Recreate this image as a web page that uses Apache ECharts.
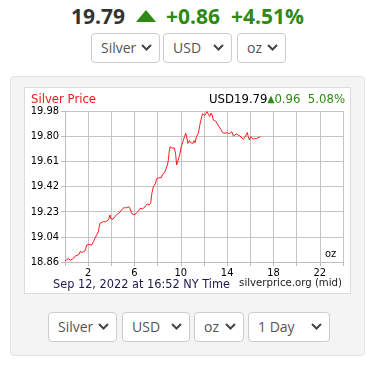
<!DOCTYPE html>
<html><head><meta charset="utf-8">
<script src="https://cdn.jsdelivr.net/npm/echarts@6/dist/echarts.min.js"></script>
<style>
html,body{margin:0;padding:0;background:#fff;width:375px;height:366px;overflow:hidden;font-family:"Open Sans",sans-serif;}
#head{position:absolute;left:0;top:2px;width:375px;text-align:center;font-weight:700;font-size:21px;line-height:28px;white-space:nowrap;}
#head .p{color:#333;}
#head .g{color:#2d8a12;}
#head svg{vertical-align:middle;margin:0 10px 4px 11px;}
#head .sp{display:inline-block;width:11px;}
.sel{position:absolute;height:28px;border:1px solid #ccc;border-radius:4px;background:#fff;box-sizing:border-box;font-size:14px;color:#555;line-height:26px;padding-left:9px;}
.sel svg{position:absolute;right:7px;top:10px;}
#panel{position:absolute;left:10px;top:76px;width:355px;height:280px;background:#f4f4f4;border:1px solid #e4e4e4;border-radius:4px;box-sizing:border-box;}
#chart{position:absolute;left:24px;top:87px;width:327px;height:207px;background:#fff;border:1px solid #ddd;box-sizing:border-box;}
</style></head>
<body>
<div id="head"><span class="p">19.79</span><svg width="20" height="12" viewBox="0 0 20 12"><polygon points="10,0 20,12 0,12" fill="#2d8a12"/></svg><span class="g">+0.86</span><span class="sp"></span><span class="g">+4.51%</span></div>
<div id="sels1"></div>
<div id="panel"></div>
<div id="chart"></div>
<div id="sels2"></div>
<script>
// ---- data ----
const hours = [0.00,0.15,0.30,0.45,0.60,0.75,0.90,1.05,1.20,1.30,1.40,1.50,1.60,1.70,1.80,1.87,1.95,2.05,2.15,2.30,2.45,2.59,2.70,2.88,2.95,3.02,3.15,3.31,3.40,3.50,3.60,3.72,3.80,3.89,3.96,4.03,4.15,4.30,4.45,4.60,4.75,4.89,5.05,5.18,5.30,5.40,5.52,5.62,5.76,5.85,5.95,6.04,6.15,6.25,6.35,6.48,6.60,6.70,6.80,6.90,7.00,7.10,7.20,7.30,7.40,7.50,7.63,7.72,7.80,7.91,8.00,8.10,8.20,8.30,8.40,8.50,8.62,8.78,8.85,8.92,9.00,9.07,9.15,9.25,9.35,9.45,9.55,9.64,9.75,9.85,9.93,10.05,10.22,10.32,10.42,10.50,10.60,10.65,10.75,10.85,10.95,11.05,11.15,11.23,11.35,11.51,11.65,11.80,11.88,11.95,12.05,12.15,12.25,12.38,12.50,12.60,12.70,12.81,12.90,13.00,13.15,13.30,13.45,13.53,13.65,13.73,13.85,14.00,14.10,14.20,14.30,14.40,14.53,14.65,14.80,14.97,15.10,15.25,15.40,15.52,15.62,15.74,15.82,15.92,16.05,16.15,16.25,16.40,16.55,16.70,16.87];
const prices = [18.867,18.878,18.887,18.872,18.866,18.889,18.905,18.900,18.915,18.936,18.944,18.932,18.924,18.940,18.962,18.986,18.978,18.990,18.982,18.986,19.010,19.036,19.055,19.085,19.120,19.147,19.155,19.160,19.168,19.158,19.172,19.170,19.185,19.209,19.180,19.172,19.178,19.195,19.210,19.221,19.230,19.246,19.262,19.275,19.262,19.258,19.270,19.255,19.221,19.232,19.210,19.196,19.220,19.218,19.240,19.258,19.250,19.255,19.248,19.268,19.272,19.290,19.295,19.285,19.300,19.370,19.419,19.405,19.440,19.476,19.470,19.485,19.490,19.485,19.505,19.510,19.530,19.542,19.580,19.617,19.680,19.715,19.720,19.705,19.712,19.705,19.660,19.580,19.610,19.640,19.666,19.720,19.765,19.790,19.815,19.790,19.740,19.728,19.760,19.745,19.755,19.740,19.760,19.745,19.790,19.815,19.880,19.938,19.960,19.968,19.945,19.955,19.975,19.968,19.940,19.965,19.950,19.913,19.925,19.905,19.884,19.875,19.845,19.827,19.820,19.815,19.822,19.818,19.825,19.812,19.818,19.827,19.795,19.800,19.810,19.820,19.795,19.782,19.770,19.785,19.798,19.820,19.790,19.765,19.790,19.780,19.772,19.785,19.776,19.782,19.790];
const yTickLabels = ["18.86","19.04","19.23","19.42","19.61","19.80","19.98"];
const xTickLabels = ["2","6","10","14","18","22"];
const topSelects = ["Silver","USD","oz"];
const bottomSelects = ["Silver","USD","oz","1 Day"];

// ---- selects ----
const chev = '<svg width="11" height="7" viewBox="0 0 11 7"><polyline points="1,1 5.5,5.5 10,1" fill="none" stroke="#444" stroke-width="2"/></svg>';
function makeSels(id, labels, lefts, widths, top){
  const c = document.getElementById(id);
  labels.forEach((t,i)=>{
    const d=document.createElement('div');d.className='sel';
    d.style.left=lefts[i]+'px';d.style.top=top+'px';d.style.width=widths[i]+'px';d.style.height='30px';d.style.lineHeight='28px';
    d.innerHTML='<span>'+t+'</span>'+chev;c.appendChild(d);
  });
}
makeSels('sels1', topSelects, [91,163,237], [69,69,49], 33);
makeSels('sels2', bottomSelects, [48,122,194,248], [69,68,50,82], 312);

// ---- chart ----
const yMin = 18.86, yMax = 19.98, yInt = (yMax - yMin) / 6;
const chart = echarts.init(document.getElementById('chart'));
const F = '"DejaVu Sans Condensed","DejaVu Sans",sans-serif';
chart.setOption({
  animation:false,
  grid:{left:40,top:23,right:7,bottom:31,show:false},
  xAxis:{type:'value',min:0,max:24,interval:2,
    axisLine:{show:true,lineStyle:{color:'#bdbdbd'}},
    axisTick:{show:true,length:4,lineStyle:{color:'#bdbdbd'}},
    splitLine:{show:true,lineStyle:{color:'#c4c4c4',width:1}},
    axisLabel:{margin:6,fontSize:11,color:'#000',fontFamily:F,
      formatter:v=>{const s=String(Math.round(v));return xTickLabels.indexOf(s)>=0?s:'';}}},
  yAxis:{type:'value',min:yMin,max:yMax,interval:yInt,
    axisLine:{show:true,lineStyle:{color:'#bdbdbd'}},
    axisTick:{show:true,length:4,lineStyle:{color:'#bdbdbd'}},
    splitLine:{show:true,lineStyle:{color:'#c4c4c4',width:1}},
    axisLabel:{margin:6,fontSize:11,color:'#000',fontFamily:F,
      formatter:v=>yTickLabels[Math.round((v-yMin)/yInt)]||''}},
  graphic:[
    {type:'text',left:6,top:5,style:{text:'Silver Price',fill:'#f01818',font:'13px '+F}},
    {type:'text',right:5,top:5,style:{rich:{a:{fill:'#000',font:'13px '+F},g:{fill:'#2d8a12',font:'13px '+F},t:{fill:'#2d8a12',font:'10px '+F}},text:'{a|USD19.79}{t|▲}{g|0.96  5.08%}'}},
    {type:'text',left:28,top:190,style:{text:'Sep 12, 2022 at 16:52 NY Time',fill:'#1a1a50',font:'12.6px '+F}},
    {type:'text',right:8,top:190,style:{text:'silverprice.org (mid)',fill:'#222',font:'11.3px '+F}},
    {type:'text',left:300,top:161,style:{text:'oz',fill:'#000',font:'11px '+F}}
  ],
  series:[{type:'line',data:hours.map((h,i)=>[h,prices[i]]),showSymbol:false,
    lineStyle:{color:'#ff1a1a',width:1},itemStyle:{color:'#ff1a1a'}}]
});
</script>
</body></html>
